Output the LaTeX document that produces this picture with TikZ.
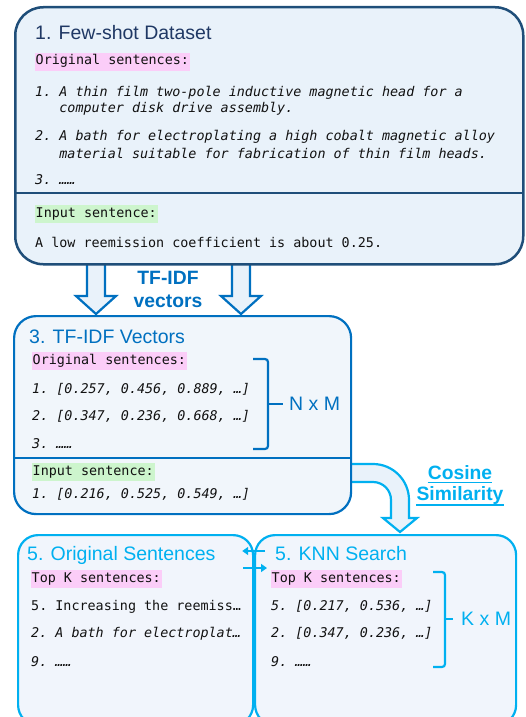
\documentclass[tikz,border=0pt]{standalone}
\usepackage{fontspec}
\setmainfont{Liberation Sans}
\setmonofont{DejaVu Sans Mono}
\usetikzlibrary{arrows.meta}
\definecolor{navy}{HTML}{1F4E79}
\definecolor{navytext}{HTML}{1F3864}
\definecolor{midblue}{HTML}{0070C0}
\definecolor{skyblue}{HTML}{00B0F0}
\definecolor{fillA}{HTML}{E9F2FA}
\definecolor{fillB}{HTML}{F1F6FB}
\definecolor{fillC}{HTML}{F1F5FC}
\definecolor{pinkhl}{HTML}{FBCDF8}
\definecolor{greenhl}{HTML}{CDF5CD}
\definecolor{codegray}{HTML}{111111}

\begin{document}
\begin{tikzpicture}[x=1pt,y=-1pt]
\tikzstyle{panel}=[draw, rounded corners=22pt, line width=2.2pt, anchor=north west, inner sep=0pt]
\tikzstyle{heading}=[anchor=base west, inner sep=0pt, font=\fontsize{19.5}{23}\selectfont]
\tikzstyle{boldlabel}=[anchor=base, inner sep=0pt, font=\bfseries\fontsize{19.3}{23}\selectfont]
\tikzstyle{code}=[anchor=base west, inner sep=0pt, text=codegray, font=\ttfamily\fontsize{13.4}{16}\selectfont]
\tikzstyle{codeit}=[code, font=\ttfamily\itshape\fontsize{13.4}{16}\selectfont]
\tikzstyle{hlpink}=[code, fill=pinkhl, inner xsep=1pt, inner ysep=2pt, text height=10pt, text depth=3.5pt]
\tikzstyle{hlgreen}=[hlpink, fill=greenhl]
\tikzstyle{blockarrow}=[draw=midblue, fill=fillA, line width=2.2pt, line join=miter]
\tikzstyle{bracket}=[line width=2.2pt, rounded corners=3pt]
\tikzstyle{smallarrow}=[draw=skyblue, line width=2.2pt, -{Triangle[length=6pt,width=8pt]}]
\useasboundingbox (0,0) rectangle (526,717);

\draw[blockarrow] (87,262) -- (87,296) -- (76,296) -- (96,314) -- (116,296) -- (105,296) -- (105,262);
\draw[blockarrow] (232,262) -- (232,296) -- (221,296) -- (241,314) -- (261,296) -- (250,296) -- (250,262);
\draw[blockarrow, draw=skyblue] (350,464) [rounded corners=36pt] -- (409,464) [sharp corners] -- (409,518) -- (417,518) -- (400,532) -- (383,518) -- (391,518) [rounded corners=18pt] -- (391,482) [sharp corners] -- (350,482);

\node[panel, draw=navy, fill=fillA, line width=2.5pt, rounded corners=28pt, minimum width=508pt, minimum height=257pt] (fewshot) at (14,6) {};
\draw[navy, line width=1.5pt] (14,193) -- (522,193);
\node[panel, draw=midblue, fill=fillB, minimum width=337pt, minimum height=198pt] (tfidf) at (13,315) {};
\draw[midblue, line width=1.5pt] (13,458) -- (350,458);
\node[panel, draw=skyblue, fill=fillC, rounded corners=20pt, minimum width=235pt, minimum height=190pt] (orig) at (17,534) {};
\node[panel, draw=skyblue, fill=fillC, rounded corners=20pt, minimum width=261pt, minimum height=190pt] (knn) at (254,534) {};

\node[heading, text=navytext] (t1) at (35,39.5) {1. Few-shot Dataset};
\node[hlpink] (o1) at (34.5,65) {Original sentences:};
\node[codeit] (s1) at (35,96) {1. A thin film two-pole inductive magnetic head for a};
\node[codeit] (s1b) at (59.2,112) {computer disk drive assembly.};
\node[codeit] (s2) at (35,140.5) {2. A bath for electroplating a high cobalt magnetic alloy};
\node[codeit] (s2b) at (59.2,158) {material suitable for fabrication of thin film heads.};
\node[codeit] (s3) at (35,184) {3. ……};
\node[hlgreen] (i1) at (34.5,217) {Input sentence:};
\node[code] (q1) at (35,247) {A low reemission coefficient is about 0.25.};

\node[boldlabel, text=midblue] (tf1) at (168,284) {TF-IDF};
\node[boldlabel, text=midblue] (tf2) at (168,307) {vectors};

\node[heading, text=midblue] (t3) at (29,343) {3. TF-IDF Vectors};
\node[hlpink] (o3) at (31.5,364) {Original sentences:};
\node[codeit] (v1) at (32,393) {1. [0.257, 0.456, 0.889, …]};
\node[codeit] (v2) at (32,420) {2. [0.347, 0.236, 0.668, …]};
\node[codeit] (v3) at (32,448) {3. ……};
\node[hlgreen] (i3) at (31.5,475) {Input sentence:};
\node[codeit] (q3) at (32,498) {1. [0.216, 0.525, 0.549, …]};
\draw[bracket, midblue] (253,359) -- (268,359) -- (268,449) -- (253,449);
\node[heading, anchor=west, inner xsep=6pt, text=midblue] (nxm) at (283,404) {N x M};
\draw[midblue, line width=2.2pt] (268,404) -- (nxm.west);

\node[boldlabel, text=skyblue] (cos1) at (460,479) {Cosine};
\node[boldlabel, text=skyblue] (cos2) at (460,500) {Similarity};
\draw[skyblue, line width=1.6pt] ([yshift=-3.5pt]cos1.base west) -- ([yshift=-3.5pt]cos1.base east);
\draw[skyblue, line width=1.6pt] ([yshift=-5pt]cos2.base west) -- ([yshift=-5pt]cos2.base east);

\node[heading, text=skyblue] (t5) at (27,560) {5. Original Sentences};
\node[heading, text=skyblue] (t6) at (275,560) {5. KNN Search};
\node[hlpink] (k1) at (30.5,582) {Top K sentences:};
\node[hlpink] (k2) at (270.5,582) {Top K sentences:};
\node[code] (r1) at (31,610) {5. Increasing the reemiss…};
\node[codeit] (r2) at (31,637) {2. A bath for electroplat…};
\node[codeit] (r3) at (31,666) {9. ……};
\node[codeit] (w1) at (271,610) {5. [0.217, 0.536, …]};
\node[codeit] (w2) at (271,637) {2. [0.347, 0.236, …]};
\node[codeit] (w3) at (271,666) {9. ……};
\draw[bracket, skyblue] (433,572) -- (445,572) -- (445,667) -- (433,667);
\node[heading, anchor=west, inner xsep=8pt, text=skyblue] (kxm) at (453,619) {K x M};
\draw[skyblue, line width=2.2pt] (445,619) -- (kxm.west);

\draw[smallarrow] ([shift={(11,17)}]knn.north west) -- ([shift={(-12,17)}]orig.north east);
\draw[smallarrow] ([shift={(-11,34)}]orig.north east) -- ([shift={(13,34)}]knn.north west);

\end{tikzpicture}
\end{document}
